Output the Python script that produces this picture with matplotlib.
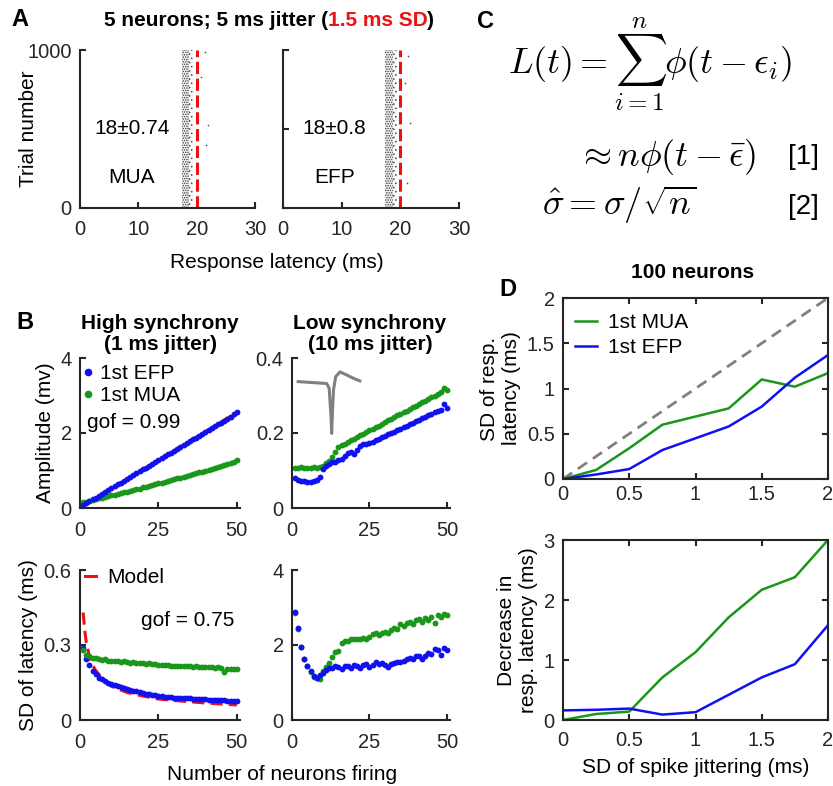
import matplotlib
matplotlib.use('Agg')
import matplotlib.pyplot as plt
from matplotlib.lines import Line2D

plt.rcParams['font.family'] = ['Liberation Sans', 'DejaVu Sans']
plt.rcParams['mathtext.fontset'] = 'cm'
plt.rcParams['hatch.linewidth'] = 0.7

# ---------------- data ----------------
# Panel A (raster band edges in ms, stray spikes, reference latency)
raster_core_ms = (17.45, 18.75)
raster_tail_ms = (18.75, 19.45)
stray_mua_ms = [21.4, 20.7, 22.0, 21.6]
stray_mua_trial = [987, 830, 525, 400]
stray_efp_ms = [21.3, 20.8, 21.6, 21.1]
stray_efp_trial = [962, 790, 535, 157]
ref_latency_ms = 20.0
label_mua = "18\u00b10.74"
label_efp = "18\u00b10.8"

# Panel B (number of neurons firing 1..50)
n_neurons = list(range(1, 51))
hs_amp_efp = [0.08, 0.13, 0.18, 0.23, 0.28, 0.33, 0.38, 0.43, 0.48, 0.53,
              0.58, 0.63, 0.68, 0.73, 0.78, 0.83, 0.88, 0.93, 0.98, 1.03,
              1.08, 1.13, 1.18, 1.23, 1.28, 1.33, 1.38, 1.43, 1.48, 1.53,
              1.58, 1.63, 1.68, 1.73, 1.78, 1.83, 1.88, 1.93, 1.98, 2.03,
              2.08, 2.13, 2.18, 2.23, 2.28, 2.33, 2.38, 2.44, 2.50, 2.55]
hs_amp_mua = [0.15, 0.17, 0.19, 0.21, 0.24, 0.26, 0.28, 0.30, 0.32, 0.34,
              0.36, 0.38, 0.40, 0.42, 0.44, 0.46, 0.48, 0.50, 0.52, 0.55,
              0.57, 0.59, 0.61, 0.63, 0.66, 0.68, 0.70, 0.72, 0.74, 0.77,
              0.79, 0.81, 0.83, 0.86, 0.88, 0.90, 0.93, 0.95, 0.97, 1.00,
              1.02, 1.04, 1.07, 1.09, 1.12, 1.14, 1.17, 1.20, 1.24, 1.28]
hs_amp_model_n = [0, 50]
hs_amp_model = [0.0, 2.55]

ls_amp_efp = [0.079, 0.075, 0.073, 0.072, 0.069, 0.069, 0.071, 0.074, 0.084, 0.105,
              0.112, 0.118, 0.123, 0.124, 0.127, 0.132, 0.138, 0.146, 0.150, 0.144,
              0.155, 0.166, 0.170, 0.172, 0.173, 0.177, 0.181, 0.185, 0.189, 0.193,
              0.197, 0.200, 0.204, 0.208, 0.212, 0.216, 0.220, 0.224, 0.228, 0.232,
              0.236, 0.240, 0.244, 0.248, 0.252, 0.256, 0.259, 0.262, 0.277, 0.268]
ls_amp_mua = [0.108, 0.107, 0.109, 0.108, 0.107, 0.108, 0.109, 0.108, 0.110, 0.112,
              0.119, 0.126, 0.137, 0.150, 0.162, 0.168, 0.172, 0.176, 0.181, 0.185,
              0.190, 0.194, 0.198, 0.203, 0.207, 0.212, 0.216, 0.220, 0.225, 0.229,
              0.234, 0.238, 0.242, 0.247, 0.251, 0.256, 0.260, 0.264, 0.269, 0.273,
              0.278, 0.282, 0.286, 0.291, 0.295, 0.300, 0.304, 0.309, 0.320, 0.316]
spike_wave_n = [2.0, 11.2, 12.0, 12.6, 12.8, 13.0, 13.4, 14.1, 15.5, 17.6, 19.8, 21.9]
spike_wave_amp = [0.337, 0.332, 0.319, 0.243, 0.199, 0.243, 0.315, 0.350, 0.363, 0.355, 0.346, 0.339]

hs_sd_efp = [0.287, 0.243, 0.220, 0.196, 0.183, 0.170, 0.164, 0.158, 0.150, 0.146,
             0.141, 0.137, 0.132, 0.128, 0.125, 0.121, 0.118, 0.115, 0.111, 0.108,
             0.106, 0.104, 0.101, 0.099, 0.097, 0.096, 0.094, 0.093, 0.091, 0.090,
             0.089, 0.088, 0.088, 0.087, 0.087, 0.086, 0.085, 0.084, 0.084, 0.083,
             0.082, 0.082, 0.081, 0.080, 0.080, 0.079, 0.078, 0.078, 0.077, 0.077]
hs_sd_mua = [0.280, 0.262, 0.255, 0.250, 0.247, 0.245, 0.242, 0.244, 0.238, 0.237,
             0.236, 0.238, 0.234, 0.235, 0.233, 0.230, 0.232, 0.228, 0.229, 0.227,
             0.226, 0.228, 0.224, 0.225, 0.221, 0.222, 0.219, 0.220, 0.218, 0.217,
             0.218, 0.216, 0.217, 0.215, 0.216, 0.214, 0.215, 0.213, 0.214, 0.212,
             0.213, 0.211, 0.210, 0.211, 0.209, 0.192, 0.203, 0.206, 0.203, 0.204]
hs_sd_model_n = [1, 1.5, 2, 3, 4, 5, 7, 10, 15, 20, 25, 30, 40, 50]
hs_sd_model = [0.43, 0.36, 0.31, 0.255, 0.22, 0.198, 0.168, 0.135, 0.11, 0.096,
               0.084, 0.078, 0.068, 0.060]

ls_sd_efp = [2.88, 2.46, 1.95, 1.64, 1.44, 1.30, 1.17, 1.13, 1.19, 1.25,
             1.33, 1.40, 1.38, 1.44, 1.41, 1.36, 1.45, 1.43, 1.38, 1.48,
             1.44, 1.40, 1.47, 1.50, 1.42, 1.48, 1.55, 1.50, 1.53, 1.46,
             1.42, 1.49, 1.53, 1.55, 1.54, 1.57, 1.62, 1.66, 1.63, 1.72,
             1.70, 1.64, 1.72, 1.78, 1.75, 1.90, 1.86, 1.74, 1.93, 1.88]
ls_sd_mua = [2.86, 2.44, 1.94, 1.63, 1.43, 1.29, 1.16, 1.12, 1.10, 1.30,
             1.42, 1.53, 1.67, 1.82, 1.83, 2.05, 2.12, 2.10, 2.15, 2.16,
             2.17, 2.16, 2.18, 2.15, 2.22, 2.29, 2.31, 2.28, 2.33, 2.36,
             2.33, 2.41, 2.45, 2.42, 2.55, 2.50, 2.58, 2.62, 2.55, 2.66,
             2.70, 2.62, 2.72, 2.68, 2.75, 2.58, 2.80, 2.76, 2.82, 2.80]

# Panel D (100 neurons)
jitter_sd = [0, 0.25, 0.5, 0.75, 1.0, 1.25, 1.5, 1.75, 2.0]
d_sd_mua = [0.0, 0.10, 0.34, 0.60, 0.69, 0.78, 1.10, 1.02, 1.17]
d_sd_efp = [0.0, 0.05, 0.11, 0.32, 0.45, 0.58, 0.80, 1.12, 1.37]
identity_x = [0, 2]
identity_y = [0, 2]
d_dec_mua = [0.0, 0.10, 0.14, 0.71, 1.13, 1.71, 2.17, 2.38, 3.0]
d_dec_efp = [0.16, 0.17, 0.19, 0.09, 0.13, 0.42, 0.71, 0.93, 1.58]

# ---------------- style ----------------
W, H = 833, 786
fig = plt.figure(figsize=(W / 100, H / 100), dpi=100)
AXC = '#262626'
BLUE = '#1010f0'
GREEN = '#1a961a'
RED = '#ee1111'
FS_TICK = 14.5
FS_LAB = 15


def fx(x):
    return x / W


def fy(y):
    return 1 - y / H


def ax_px(x0, y0, x1, y1):
    return fig.add_axes([x0 / W, 1 - y1 / H, (x1 - x0) / W, (y1 - y0) / H])


def style(ax, box=False, xpad=9):
    for s in ['left', 'bottom', 'top', 'right']:
        ax.spines[s].set_color(AXC)
        ax.spines[s].set_linewidth(1.5)
    if not box:
        ax.spines['top'].set_visible(False)
        ax.spines['right'].set_visible(False)
    ax.tick_params(direction='in', length=4, width=1.5, color=AXC,
                   labelsize=FS_TICK, labelcolor=AXC, pad=6,
                   top=box, right=box)
    ax.tick_params(axis='x', pad=xpad)
    ax.set_facecolor('none')


# ---------------- Panel A ----------------
axA1 = ax_px(80, 50, 255, 208)
axA2 = ax_px(283, 50, 459, 208)
for ax, sx, sy, lab, nm, tx in [(axA1, stray_mua_ms, stray_mua_trial, label_mua, 'MUA', 8.9),
                                 (axA2, stray_efp_ms, stray_efp_trial, label_efp, 'EFP', 8.8)]:
    style(ax)
    ax.fill_betweenx([0, 1000], raster_core_ms[0], raster_core_ms[1], facecolor='#f0f0f0',
                     hatch='.......', edgecolor='#3a3a3a', linewidth=0)
    ax.fill_betweenx([0, 1000], raster_tail_ms[0], raster_tail_ms[1], facecolor='#fafafa',
                     hatch='....', edgecolor='#555555', linewidth=0)
    ax.scatter(sx, sy, s=1.5, color='#555555', lw=0)
    ax.axvline(ref_latency_ms, color=RED, lw=2.2, ls=(0, (4, 1.5)))
    ax.set_xlim(0, 30)
    ax.set_ylim(0, 1000)
    ax.set_xticks([0, 10, 20, 30])
    ax.text(tx, 500, lab, fontsize=FS_LAB, ha='center', va='center', color='black')
    ax.text(tx, 190, nm, fontsize=FS_LAB, ha='center', va='center', color='black')
axA1.set_yticks([0, 1000])
axA1.set_yticklabels(['0', '1000'])
axA2.set_yticks([0, 500, 1000])
axA2.set_yticklabels(['', '', ''])
axA1.set_ylabel('Trial number', fontsize=FS_LAB, labelpad=-8)
fig.text(fx(277), fy(263), 'Response latency (ms)', fontsize=FS_LAB, ha='center', va='center')

# title with red part
parts = [("5 neurons; 5 ms jitter (", 'black'), ("1.5 ms SD", RED), (")", 'black')]
rend = fig.canvas.get_renderer()
txts = [fig.text(0, fy(20), p, color=c, fontsize=15, fontweight='bold', ha='left', va='center')
        for p, c in parts]
widths = [t.get_window_extent(rend).width for t in txts]
x = 269 - sum(widths) / 2
for t, w in zip(txts, widths):
    t.set_x(fx(x))
    x += w

# ---------------- Panel B ----------------
axB1 = ax_px(80, 358, 240, 508)
axB2 = ax_px(292, 358, 450, 508)
axB3 = ax_px(80, 570, 240, 720)
axB4 = ax_px(292, 570, 450, 720)
for ax in [axB1, axB2, axB3, axB4]:
    style(ax)
    ax.set_xlim(0, 51)
    ax.set_xticks([0, 25, 50])

MS = 4.2
axB1.plot(hs_amp_model_n, hs_amp_model, color=RED, lw=2.2, ls=(0, (4, 2)), zorder=2)
axB1.plot(n_neurons, hs_amp_mua, 'o', color=GREEN, ms=MS, mew=0, zorder=3)
axB1.plot(n_neurons, hs_amp_efp, 'o', color=BLUE, ms=MS, mew=0, zorder=3)
axB1.set_ylim(0, 4)
axB1.set_yticks([0, 2, 4])
axB1.set_ylabel('Amplitude (mv)', fontsize=FS_LAB, labelpad=4)
hB = [Line2D([], [], marker='o', ls='none', color=BLUE, ms=5.5, mew=0),
      Line2D([], [], marker='o', ls='none', color=GREEN, ms=5.5, mew=0)]
axB1.legend(hB, ['1st EFP', '1st MUA'], loc='upper left',
            bbox_to_anchor=(fx(83), fy(364)), bbox_transform=fig.transFigure,
            frameon=False, fontsize=FS_LAB, handlelength=0.5, handletextpad=0.3,
            labelspacing=0.15, borderaxespad=0, borderpad=0)
axB1.text(fx(87), fy(423), 'gof = 0.99', transform=fig.transFigure, fontsize=FS_LAB,
          ha='left', va='center')

axB2.plot(spike_wave_n, spike_wave_amp, color='#808080', lw=2.2)
axB2.plot(n_neurons, ls_amp_mua, 'o', color=GREEN, ms=MS, mew=0)
axB2.plot(n_neurons, ls_amp_efp, 'o', color=BLUE, ms=MS, mew=0)
axB2.set_ylim(0, 0.4)
axB2.set_yticks([0, 0.2, 0.4])
axB2.set_yticklabels(['0', '0.2', '0.4'])

axB3.plot(hs_sd_model_n, hs_sd_model, color=RED, lw=2.2, ls=(0, (4, 2)), zorder=2)
axB3.plot(n_neurons, hs_sd_efp, 'o', color=BLUE, ms=MS, mew=0, zorder=3)
axB3.plot(n_neurons, hs_sd_mua, 'o', color=GREEN, ms=MS, mew=0, zorder=3)
axB3.set_ylim(0, 0.6)
axB3.set_yticks([0, 0.3, 0.6])
axB3.set_yticklabels(['0', '0.3', '0.6'])
axB3.set_ylabel('SD of latency (ms)', fontsize=FS_LAB, labelpad=4)
axB3.legend([Line2D([], [], color=RED, lw=2.2)], ['Model'], loc='upper left',
            bbox_to_anchor=(fx(85), fy(568)), bbox_transform=fig.transFigure,
            frameon=False, fontsize=FS_LAB, handlelength=0.55,
            handletextpad=0.5, borderaxespad=0, borderpad=0)
axB3.text(fx(188), fy(620), 'gof = 0.75', transform=fig.transFigure, fontsize=FS_LAB,
          ha='center', va='center')

axB4.plot(n_neurons, ls_sd_mua, 'o', color=GREEN, ms=MS, mew=0)
axB4.plot(n_neurons, ls_sd_efp, 'o', color=BLUE, ms=MS, mew=0)
axB4.set_ylim(0, 4)
axB4.set_yticks([0, 2, 4])

fig.text(fx(160), fy(334), 'High synchrony\n(1 ms jitter)', fontsize=15, fontweight='bold',
         ha='center', va='center', linespacing=1.1)
fig.text(fx(370), fy(334), 'Low synchrony\n(10 ms jitter)', fontsize=15, fontweight='bold',
         ha='center', va='center', linespacing=1.1)
fig.text(fx(282), fy(775), 'Number of neurons firing', fontsize=FS_LAB, ha='center', va='center')

# ---------------- Panel C ----------------
fig.text(fx(650), fy(64), r'$L(t) = \sum_{i=1}^{n}\phi(t-\epsilon_i)$', fontsize=26,
         ha='center', va='center')
fig.text(fx(577), fy(157), r'$\approx n\phi(t-\bar{\epsilon})$', fontsize=26,
         ha='left', va='center')
fig.text(fx(542), fy(205), r'$\hat{\sigma} = \sigma/\sqrt{n}$', fontsize=26,
         ha='left', va='center')
fig.text(fx(803), fy(157), '[1]', fontsize=20, ha='center', va='center')
fig.text(fx(803), fy(207), '[2]', fontsize=20, ha='center', va='center')

# ---------------- Panel D ----------------
axD1 = ax_px(563, 298, 828, 479)
axD2 = ax_px(563, 540, 828, 720)
style(axD1, box=True, xpad=4)
style(axD2, box=True, xpad=8)
for ax in [axD1, axD2]:
    ax.set_xlim(0, 2)
    ax.set_xticks([0, 0.5, 1, 1.5, 2])
    ax.set_xticklabels(['0', '0.5', '1', '1.5', '2'])

axD1.plot(identity_x, identity_y, color='#808080', lw=2, ls=(0, (4, 2.5)))
axD1.plot(jitter_sd, d_sd_mua, color=GREEN, lw=1.8, label='1st MUA')
axD1.plot(jitter_sd, d_sd_efp, color=BLUE, lw=1.8, label='1st EFP')
axD1.set_ylim(0, 2)
axD1.set_yticks([0, 0.5, 1, 1.5, 2])
axD1.set_yticklabels(['0', '0.5', '1', '1.5', '2'])
axD1.set_ylabel('SD of resp.\nlatency (ms)', fontsize=FS_LAB, labelpad=4)
h, l = axD1.get_legend_handles_labels()
axD1.legend(h[0:2], l[0:2], loc='upper left',
            bbox_to_anchor=(fx(575), fy(313)), bbox_transform=fig.transFigure,
            frameon=False, fontsize=FS_LAB, handlelength=1.05, handletextpad=0.55,
            labelspacing=0.3, borderaxespad=0, borderpad=0)

axD2.plot(jitter_sd, d_dec_mua, color=GREEN, lw=1.8)
axD2.plot(jitter_sd, d_dec_efp, color=BLUE, lw=1.8)
axD2.set_ylim(0, 3)
axD2.set_yticks([0, 1, 2, 3])
axD2.set_ylabel('Decrease in\nresp. latency (ms)', fontsize=FS_LAB, labelpad=4)
axD2.set_xlabel('SD of spike jittering (ms)', fontsize=FS_LAB, labelpad=6)
fig.text(fx(693), fy(273), '100 neurons', fontsize=15, fontweight='bold', ha='center', va='center')

# ---------------- panel letters ----------------
for lt, x, y in [('A', 20, 20), ('B', 25, 322), ('C', 485, 22), ('D', 508, 290)]:
    fig.text(fx(x), fy(y), lt, fontsize=17, fontweight='bold', ha='center', va='center')

fig.savefig('out.png', dpi=100)
